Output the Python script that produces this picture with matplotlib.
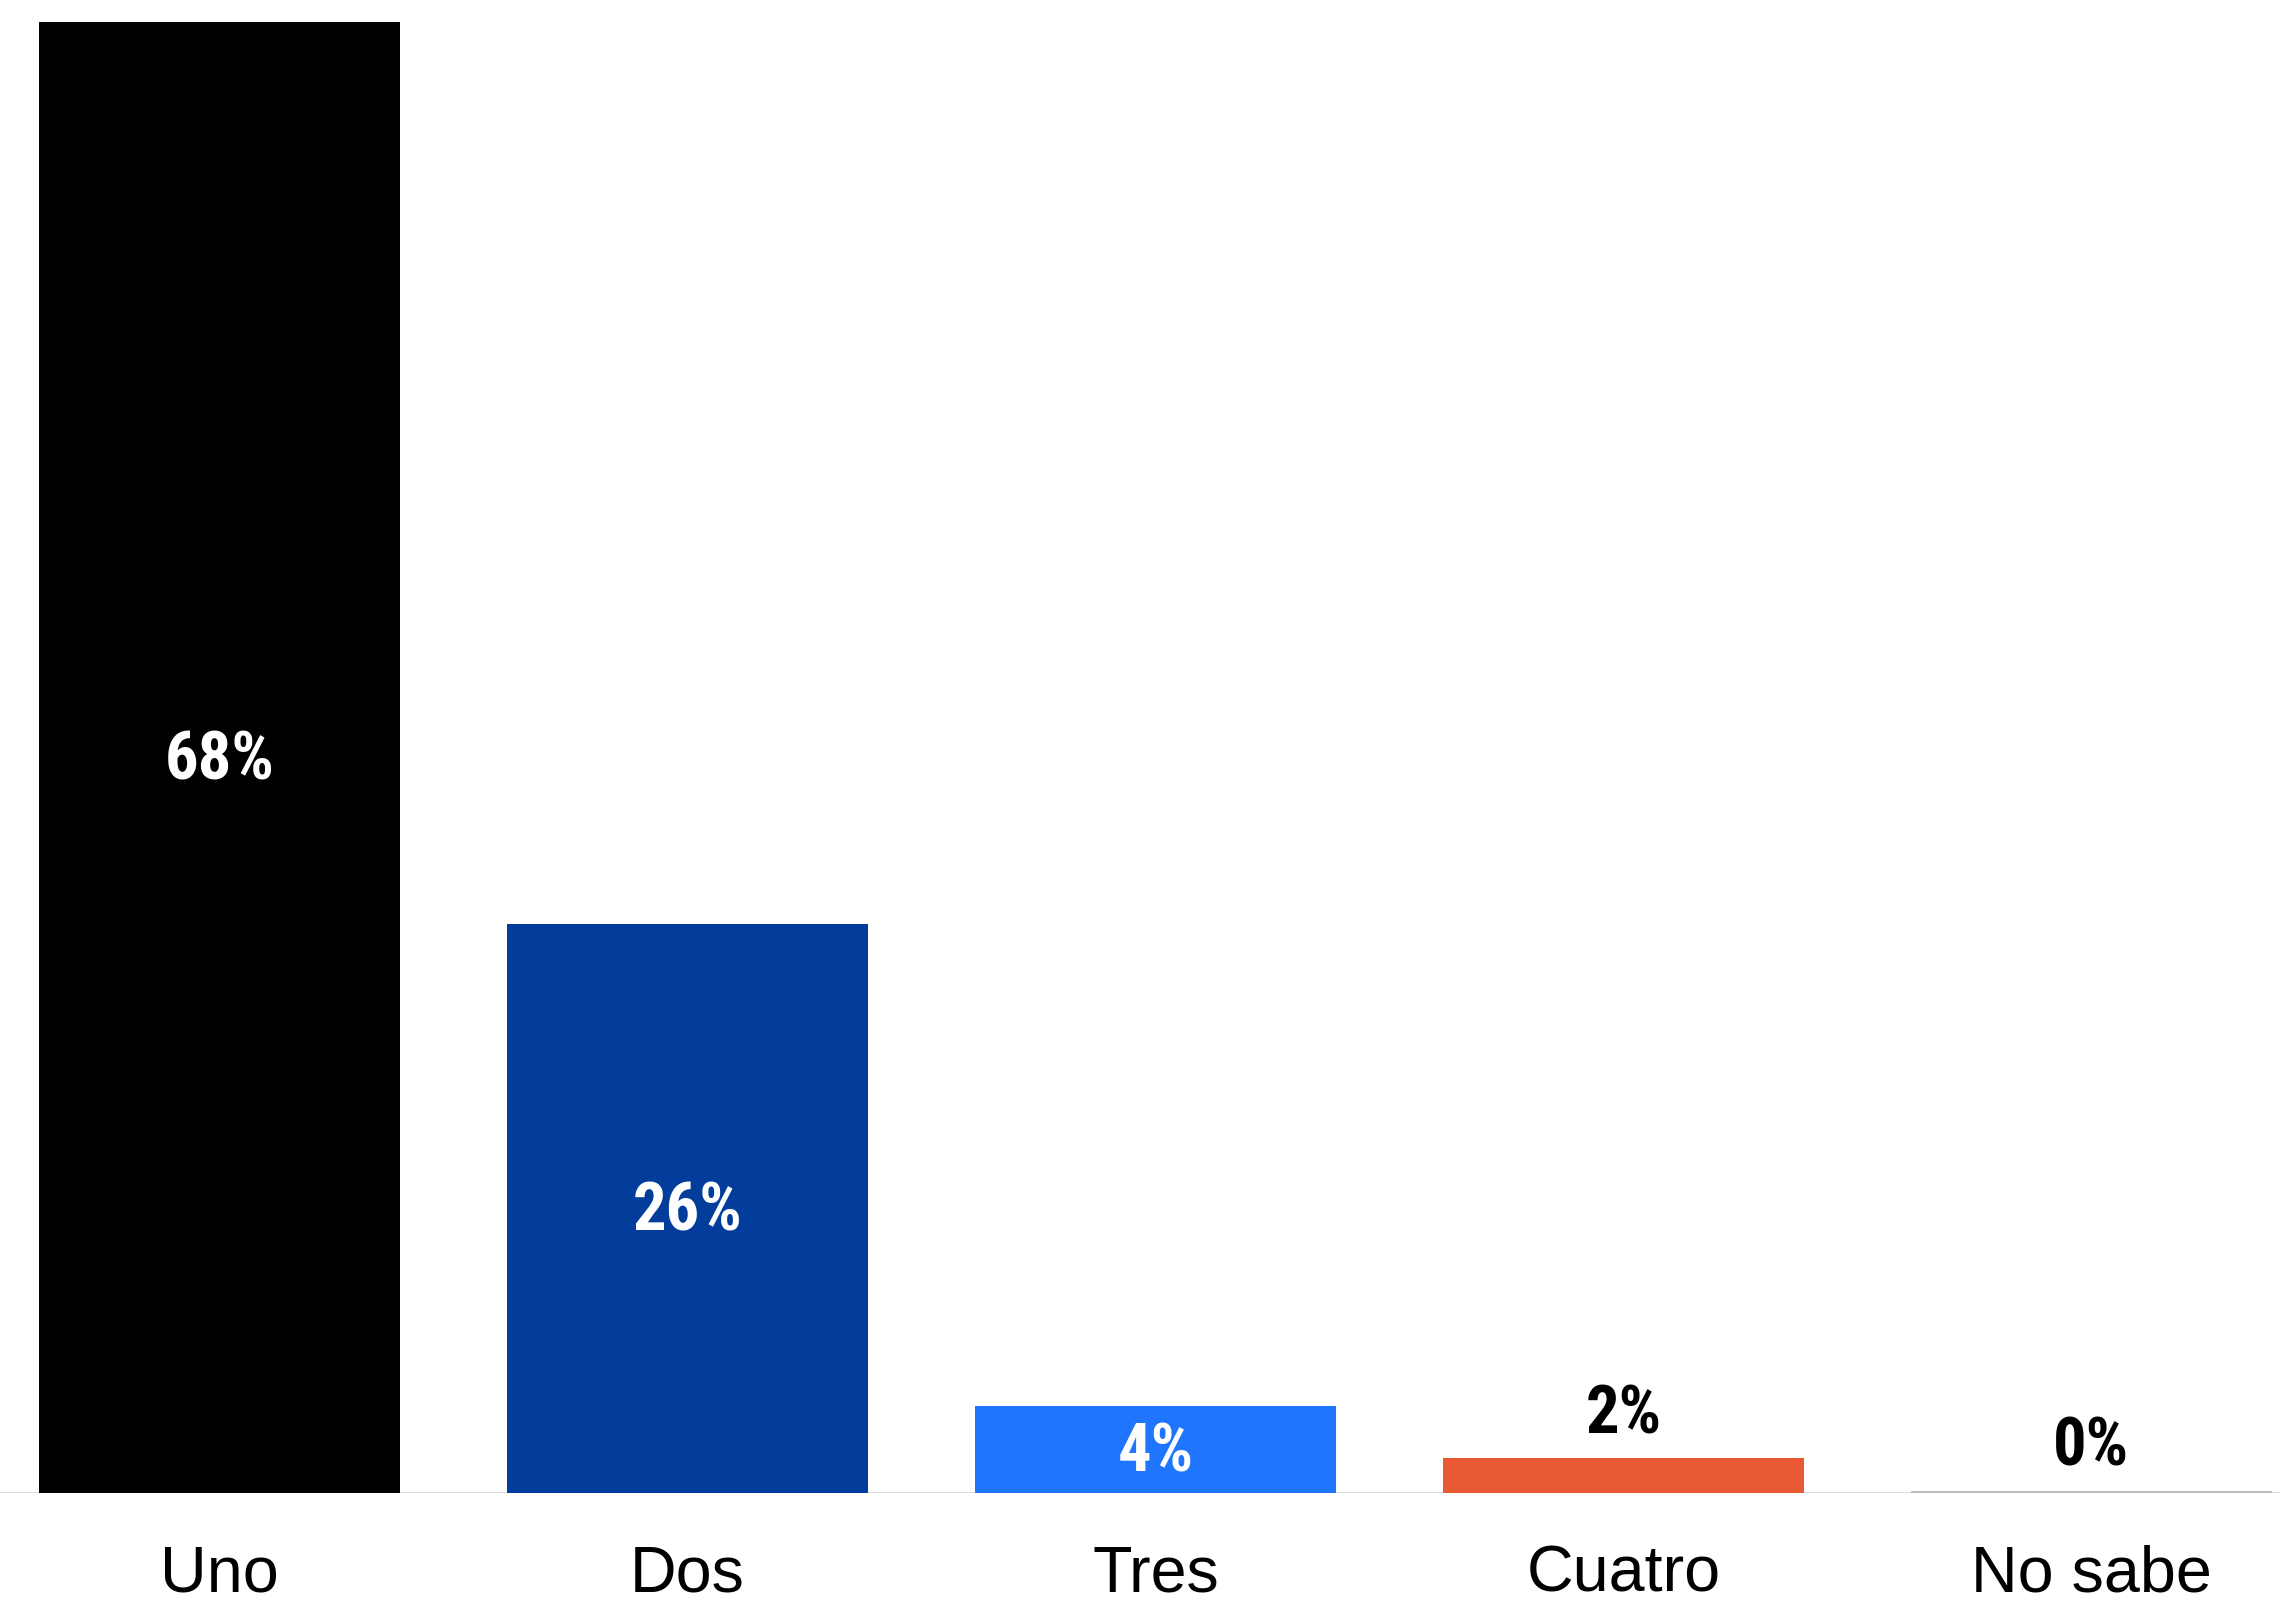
import matplotlib
matplotlib.use("Agg")
import matplotlib.pyplot as plt

# data
categories = ["Uno", "Dos", "Tres", "Cuatro", "No sabe"]
values = [68, 26.3, 4, 1.6, 0.1]
value_labels = ["68%", "26%", "4%", "2%", "0%"]
colors = ["#000000", "#033D9B", "#1F75FE", "#E85A35", "#BDBDBD"]

label_font = ["Roboto Condensed", "Liberation Sans Narrow", "Roboto", "DejaVu Sans"]
cat_font = ["Liberation Sans", "DejaVu Sans"]

W, H = 2280, 1599
fig = plt.figure(figsize=(W / 100, H / 100), dpi=100)
base_px = 106
ax = fig.add_axes([0, base_px / H, 1, 1 - base_px / H])

x = range(len(categories))
ax.bar(x, values, width=0.771, color=colors, zorder=2)
ax.axhline(0, color="#D9D9D9", linewidth=2, zorder=1)

ax.set_xlim(-0.469, 4.403)
ax.set_ylim(0, 69.02)
ax.axis("off")

for i, (v, lab) in enumerate(zip(values, value_labels)):
    if v >= 3:
        ax.annotate(lab, (i, v / 2), xytext=(0, -4), textcoords="offset pixels",
                    ha="center", va="center", color="white",
                    fontsize=48, fontweight="bold", family=label_font)
    else:
        ax.annotate(lab, (i, v), xytext=(0, 25), textcoords="offset pixels",
                    ha="center", va="baseline", color="black",
                    fontsize=48, fontweight="bold", family=label_font)

for i, cat in enumerate(categories):
    ax.annotate(cat, (i, 0), xytext=(0, -98), textcoords="offset pixels",
                ha="center", va="baseline", color="black",
                fontsize=46.5, family=cat_font, annotation_clip=False)

fig.savefig("out.png", dpi=100)
